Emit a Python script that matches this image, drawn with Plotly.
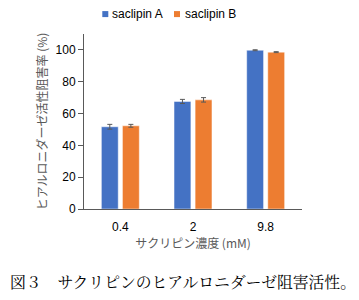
import plotly.graph_objects as go

categories = ["0.4", "2", "9.8"]
series_a = [51.7, 67.6, 99.8]
series_b = [52.3, 68.6, 98.6]
err_a = [1.5, 1.3, 0.3]
err_b = [0.9, 1.4, 0.3]
names = ["saclipin A", "saclipin B"]
colors = ["#4472C4", "#ED7D31"]
yticks = [0, 20, 40, 60, 80, 100]

font = "Liberation Sans, Arial, sans-serif"
jfont = "Noto Sans CJK JP, Liberation Sans, sans-serif"

W, H = 359, 300
L, R, T, B = 84, 57, 34.4, 90.7
PW, PH = W - L - R, H - T - B


def px(x):
    return (x - L) / PW


def py(y):
    return (H - B - y) / PH


fig = go.Figure()
for name, vals, errs, col in [(names[0], series_a, err_a, colors[0]),
                              (names[1], series_b, err_b, colors[1])]:
    fig.add_trace(go.Bar(
        x=categories, y=vals, name=name, showlegend=False,
        marker=dict(color=col, line=dict(color="rgba(255,255,255,0.6)", width=0.8)),
        error_y=dict(type="data", array=errs, color="#595959", thickness=1, width=2.5),
    ))

# legend (swatch + label)
shapes = []
annotations = []
for i, (name, col) in enumerate(zip(names, colors)):
    sx = [102.3, 174.0][i]
    tx = [110.2, 182.5][i]
    shapes.append(dict(type="rect", xref="paper", yref="paper",
                       x0=px(sx), x1=px(sx + 6), y0=py(17.5), y1=py(11.5),
                       fillcolor=col, line=dict(width=0), layer="above"))
    annotations.append(dict(text=name, xref="paper", yref="paper", x=px(tx), y=py(14.5),
                            xanchor="left", yanchor="middle", showarrow=False,
                            font=dict(family=font, size=12, color="#000")))

annotations.append(dict(text="図３　サクリピンのヒアルロニダーゼ阻害活性。",
                        xref="paper", yref="paper", x=px(8), y=py(281.5),
                        xanchor="left", yanchor="middle", showarrow=False,
                        font=dict(family="Noto Serif CJK JP, Noto Sans CJK JP", size=15.8, color="#000")))

fig.update_layout(
    width=W, height=H,
    margin=dict(l=L, r=R, t=T, b=B, autoexpand=False),
    paper_bgcolor="white", plot_bgcolor="white",
    barmode="group", bargap=0.42, bargroupgap=0.2,
    font=dict(family=font, size=12, color="#000000"),
    showlegend=False,
    xaxis=dict(type="category", showline=True, linecolor="#595959", linewidth=1,
               ticks="outside", ticklen=7, tickcolor="rgba(0,0,0,0)",
               tickfont=dict(family=font, size=12, color="#000"),
               title=dict(text="サクリピン濃度 (mM)", standoff=6,
                          font=dict(family=jfont, size=12, color="#595959"))),
    yaxis=dict(range=[0, 110], tickvals=yticks, showline=True, linecolor="#595959",
               linewidth=1, ticks="outside", ticklen=5, tickcolor="#595959",
               showgrid=False, zeroline=False,
               tickfont=dict(family=font, size=12, color="#000"),
               title=dict(text="ヒアルロニダーゼ活性阻害率 (%)", standoff=5,
                          font=dict(family=jfont, size=12, color="#595959"))),
    shapes=shapes,
    annotations=annotations,
)

fig.write_html("out.html")
